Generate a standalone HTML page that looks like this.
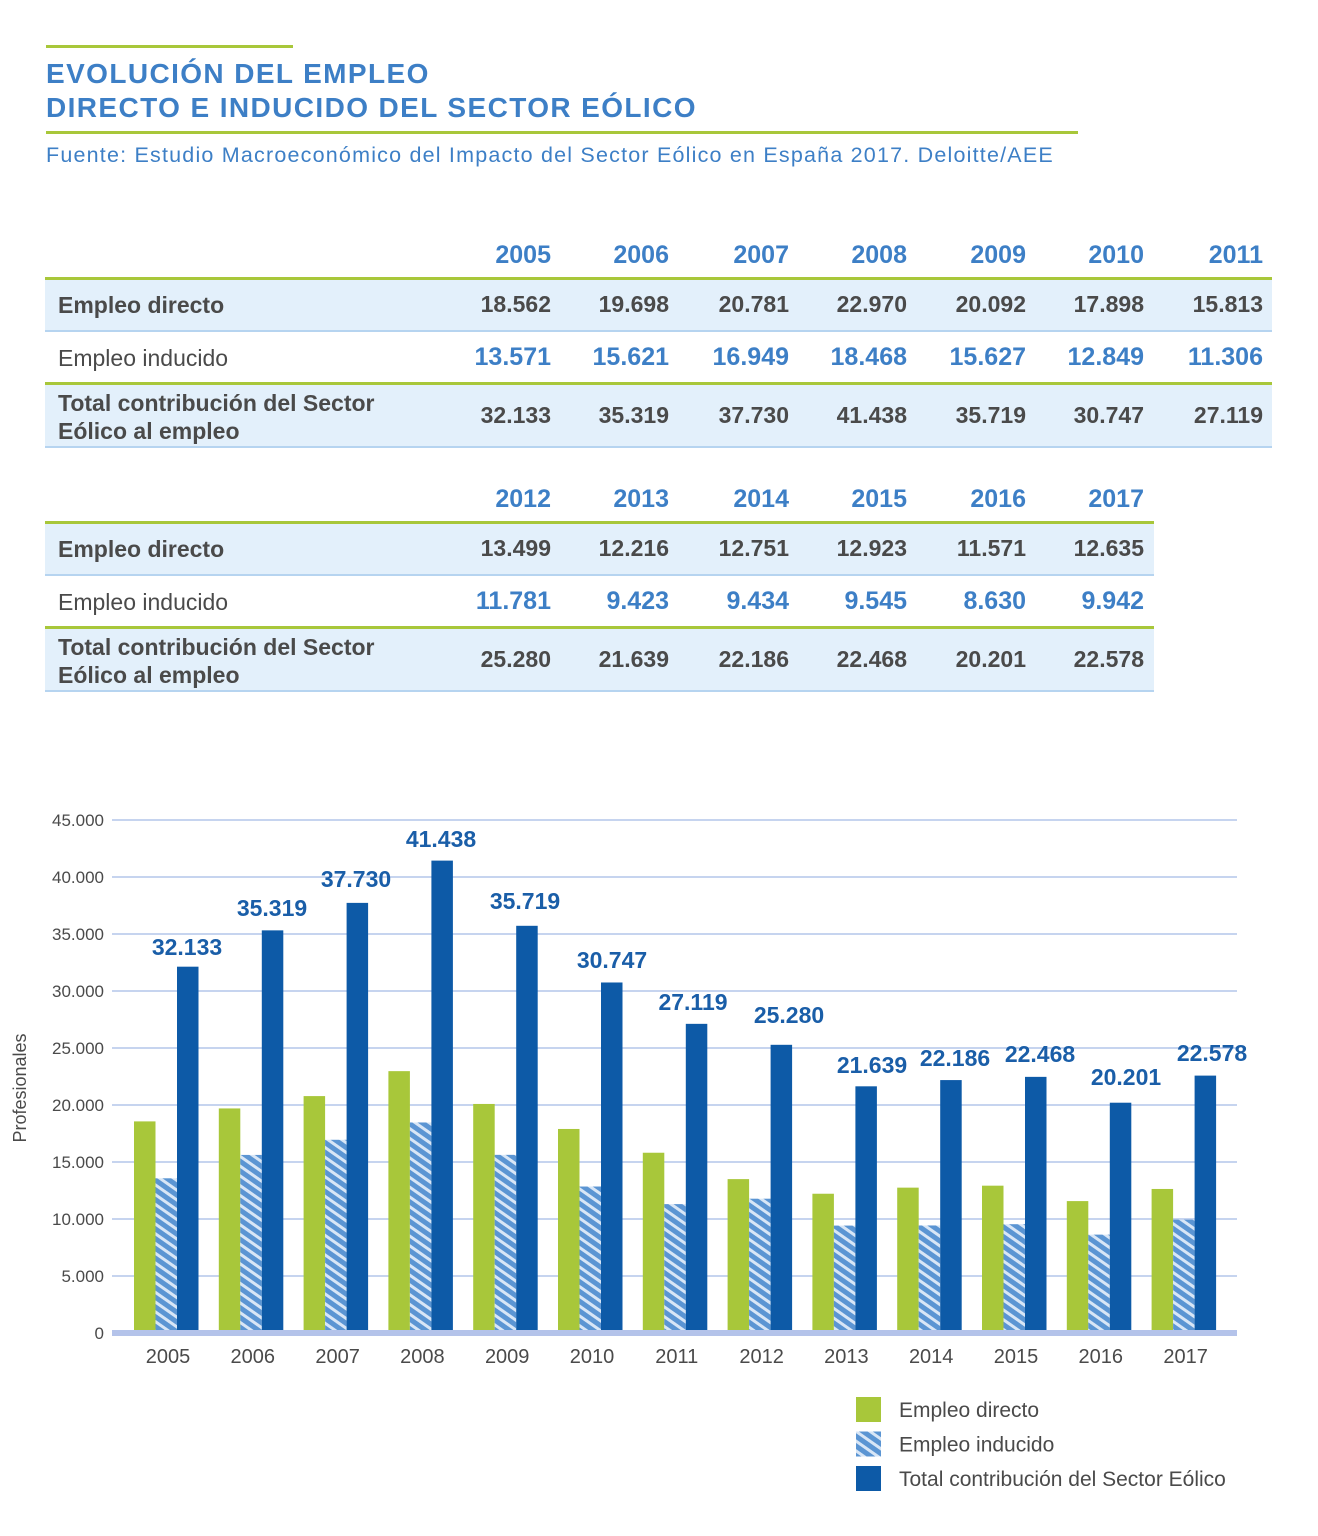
<!DOCTYPE html>
<html><head><meta charset="utf-8"><style>
body{margin:0;width:1318px;height:1536px;background:#fff;position:relative;overflow:hidden;font-family:"Liberation Sans",sans-serif}
.a{position:absolute}
.t{color:#3d7fc6;font-weight:bold;font-size:28px;left:46px;line-height:34px;letter-spacing:1.4px}
.row{position:absolute;left:45px}
.lbl{position:absolute;left:13px;color:#4a4a4a;font-size:23px}
.num{position:absolute;font-size:23px;text-align:right;width:110px}
</style></head><body>
<div class="a" style="left:46px;top:45px;width:247px;height:3px;background:#a8c73a"></div>
<div class="a t" style="top:57px">EVOLUCIÓN DEL EMPLEO<br>DIRECTO E INDUCIDO DEL SECTOR EÓLICO</div>
<div class="a" style="left:46px;top:131px;width:1032px;height:3px;background:#a8c73a"></div>
<div class="a" style="left:46px;top:143px;font-size:21.5px;color:#3d7fc6;letter-spacing:1.2px">Fuente: Estudio Macroeconómico del Impacto del Sector Eólico en España 2017. Deloitte/AEE</div>
<div id="tables"></div>
<svg class="a" style="left:0;top:0" width="1318" height="1536" id="ch">
<defs><pattern id="h" patternUnits="userSpaceOnUse" width="8" height="8" patternTransform="rotate(35)"><rect width="8" height="8" fill="#5b95d3"/><rect width="8" height="3" fill="#d8e6f6"/></pattern></defs>
</svg>
<script>
var cols=[551,669,789,907,1026,1144,1263];
function table(top,years,d,i,t,w){
 var h='';
 h+='<div class="row" style="top:'+(top+23)+'px;width:'+w+'px;height:3px;background:#a8c73a"></div>';
 h+='<div class="row" style="top:'+(top+26)+'px;width:'+w+'px;height:50px;background:#e3f0fb;border-bottom:2px solid #b6d4f0"><div class="lbl" style="top:12px;font-weight:bold">Empleo directo</div></div>';
 h+='<div class="row" style="top:'+(top+78)+'px;width:'+w+'px;height:50px"><div class="lbl" style="top:13px">Empleo inducido</div></div>';
 h+='<div class="row" style="top:'+(top+128)+'px;width:'+w+'px;height:3px;background:#a8c73a"></div>';
 h+='<div class="row" style="top:'+(top+131)+'px;width:'+w+'px;height:61px;background:#e3f0fb;border-bottom:2px solid #b6d4f0"><div class="lbl" style="top:4px;font-weight:bold;line-height:28px">Total contribución del Sector<br>Eólico al empleo</div></div>';
 for(var k=0;k<years.length;k++){var x=cols[k]-110;
  h+='<div class="num" style="left:'+x+'px;top:'+(top-13)+'px;color:#3d7fc6;font-weight:bold;font-size:25px">'+years[k]+'</div>';
  h+='<div class="num" style="left:'+x+'px;top:'+(top+37)+'px;color:#4a4a4a;font-weight:bold">'+d[k]+'</div>';
  h+='<div class="num" style="left:'+x+'px;top:'+(top+89)+'px;color:#3d7fc6;font-weight:bold;font-size:25px">'+i[k]+'</div>';
  h+='<div class="num" style="left:'+x+'px;top:'+(top+148)+'px;color:#4a4a4a;font-weight:bold">'+t[k]+'</div>';}
 return h;}
document.getElementById('tables').innerHTML=
 table(254,['2005','2006','2007','2008','2009','2010','2011'],['18.562','19.698','20.781','22.970','20.092','17.898','15.813'],['13.571','15.621','16.949','18.468','15.627','12.849','11.306'],['32.133','35.319','37.730','41.438','35.719','30.747','27.119'],1227)+
 table(498,['2012','2013','2014','2015','2016','2017'],['13.499','12.216','12.751','12.923','11.571','12.635'],['11.781','9.423','9.434','9.545','8.630','9.942'],['25.280','21.639','22.186','22.468','20.201','22.578'],1109);
var D=[18562,19698,20781,22970,20092,17898,15813,13499,12216,12751,12923,11571,12635];
var I=[13571,15621,16949,18468,15627,12849,11306,11781,9423,9434,9545,8630,9942];
var T=[32133,35319,37730,41438,35719,30747,27119,25280,21639,22186,22468,20201,22578];
var L=[[187,955],[272,916],[356,887],[441,847],[525,909],[612,968],[693,1010],[789,1023],[872,1073],[955,1066],[1040,1062],[1126,1085],[1212,1061]];
var s='',Y0=1333,k=513/45000;
for(var g=0;g<=9;g++){var y=Y0-g*5000*k;var lab=g==0?'0':(g*5)+'.000';
 if(g>0)s+='<line x1="112" x2="1237" y1="'+y+'" y2="'+y+'" stroke="#b4c6ea" stroke-width="1.5"/>';
 s+='<text x="104" y="'+(y+6)+'" text-anchor="end" font-size="17" fill="#4a4a4a">'+lab+'</text>';}
for(var j=0;j<13;j++){var c=166+j*84.8,w=21.5;
 s+='<rect x="'+(c-32)+'" y="'+(Y0-D[j]*k)+'" width="'+w+'" height="'+D[j]*k+'" fill="#a8c73a"/>';
 s+='<rect x="'+(c-10.5)+'" y="'+(Y0-I[j]*k)+'" width="'+w+'" height="'+I[j]*k+'" fill="url(#h)"/>';
 s+='<rect x="'+(c+11)+'" y="'+(Y0-T[j]*k)+'" width="'+w+'" height="'+T[j]*k+'" fill="#0d5aa7"/>';
 s+='<text x="'+(c+2)+'" y="1363" text-anchor="middle" font-size="20" fill="#4a4a4a">'+(2005+j)+'</text>';
 s+='<text x="'+L[j][0]+'" y="'+L[j][1]+'" text-anchor="middle" font-size="23" font-weight="bold" fill="#1a5ea8">'+T[j].toLocaleString('de-DE')+'</text>';}
s+='<rect x="112" y="1330" width="1125" height="6" fill="#b4c3ea"/>';
s+='<text transform="translate(26,1088) rotate(-90)" text-anchor="middle" font-size="18" fill="#4a4a4a">Profesionales</text>';
var lg=[['#a8c73a','Empleo directo'],['url(#h)','Empleo inducido'],['#0d5aa7','Total contribución del Sector Eólico']];
for(var m=0;m<3;m++){var y=1397+m*34.5;
 s+='<rect x="856" y="'+y+'" width="25" height="25" fill="'+lg[m][0]+'"/>';
 s+='<text x="899" y="'+(y+20)+'" font-size="21" fill="#4a4a4a">'+lg[m][1]+'</text>';}
document.getElementById('ch').insertAdjacentHTML('beforeend',s);
</script>
</body></html>
